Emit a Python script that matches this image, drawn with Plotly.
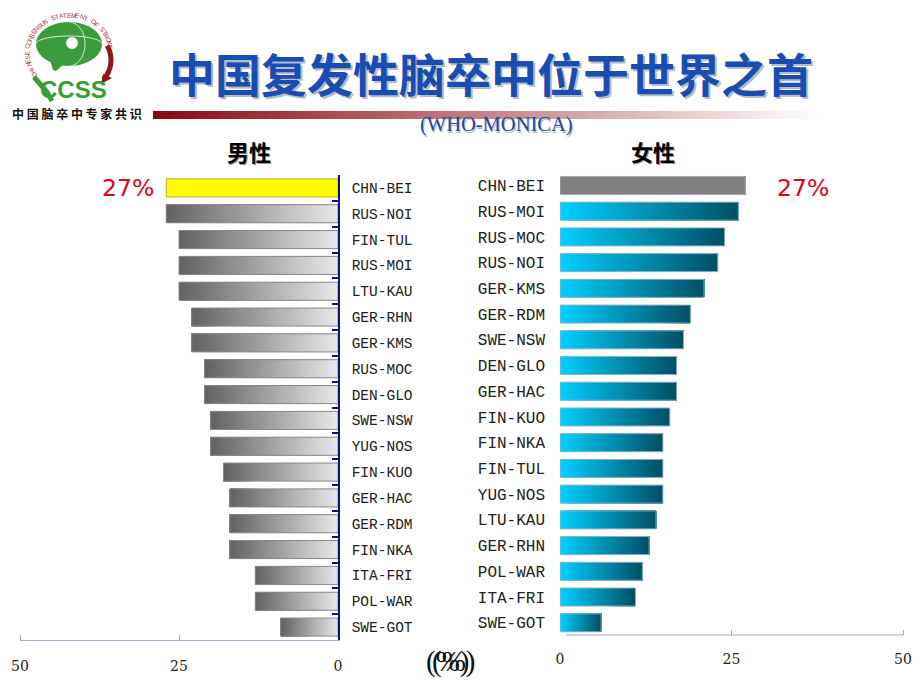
#!/usr/bin/env python3
"""Recurrent stroke rates by MONICA centre, men and women, mirrored bars."""

import math

import plotly.graph_objects as go

# the page body keeps its 8 px margin, so the figure is laid out inside that
PAGE = 8
W, H = 920 - PAGE, 690 - PAGE

# ── Data ──────────────────────────────────────────────────────────────────────

TITLE = "中国复发性脑卒中位于世界之首"
SUBTITLE = "(WHO-MONICA)"
LOGO_CAPTION = "中国脑卒中专家共识"
LOGO_RING = "CHINESE CONSENSUS STATEMENT OF STROKE"

male_centres = [
    "CHN-BEI", "RUS-NOI", "FIN-TUL", "RUS-MOI", "LTU-KAU", "GER-RHN",
    "GER-KMS", "RUS-MOC", "DEN-GLO", "SWE-NSW", "YUG-NOS", "FIN-KUO",
    "GER-HAC", "GER-RDM", "FIN-NKA", "ITA-FRI", "POL-WAR", "SWE-GOT",
]
male_values = [27, 27, 25, 25, 25, 23, 23, 21, 21, 20, 20, 18, 17, 17, 17, 13, 13, 9]

female_centres = [
    "CHN-BEI", "RUS-MOI", "RUS-MOC", "RUS-NOI", "GER-KMS", "GER-RDM",
    "SWE-NSW", "DEN-GLO", "GER-HAC", "FIN-KUO", "FIN-NKA", "FIN-TUL",
    "YUG-NOS", "LTU-KAU", "GER-RHN", "POL-WAR", "ITA-FRI", "SWE-GOT",
]
female_values = [27, 26, 24, 23, 21, 19, 18, 17, 17, 16, 15, 15, 15, 14, 13, 12, 11, 6]

x_ticks = [0, 25, 50]

# ── Helpers ───────────────────────────────────────────────────────────────────


def px(x):
    return (x - PAGE) / W


def py(y):
    return 1 - (y - PAGE) / H


def mix(a, b, t):
    return "rgb(%d,%d,%d)" % tuple(round(a[i] + (b[i] - a[i]) * t) for i in range(3))


def gradient_bars(names, values, start, end, first, xaxis, yaxis, outline, first_outline):
    """Bars have no gradient fill in plotly, so each is painted over in steps."""
    steps = 70
    ys, widths, bases, colors = [], [], [], []
    for i, (name, value) in enumerate(zip(names, values)):
        for k in range(steps):
            t = k / steps
            ys.append(name)
            widths.append(value * (1 - t))
            bases.append(value * t)
            colors.append(first if i == 0 else mix(start, end, t))
    fill = go.Bar(
        y=ys, x=widths, base=bases, orientation="h", xaxis=xaxis, yaxis=yaxis,
        marker=dict(color=colors, line_width=0), showlegend=False, hoverinfo="skip",
    )
    edge = go.Bar(
        y=names, x=values, orientation="h", xaxis=xaxis, yaxis=yaxis,
        marker=dict(
            color="rgba(0,0,0,0)",
            line=dict(color=[first_outline] + [outline] * (len(names) - 1), width=1),
        ),
        showlegend=False,
    )
    return [fill, edge]


def label(text, x, y, size, color, family, bold=False, angle=0):
    return dict(
        text=f"<b>{text}</b>" if bold else text,
        x=px(x), y=py(y), xref="paper", yref="paper",
        xanchor="center", yanchor="middle", showarrow=False, textangle=angle,
        font=dict(size=size, color=color, family=family),
    )


def path(points, close=True):
    d = "M " + " L ".join(f"{px(x):.5f},{py(y):.5f}" for x, y in points)
    return d + " Z" if close else d


def logo_shape(points, close=True, **style):
    return dict(type="path", xref="paper", yref="paper", path=path(points, close), **style)


def ellipse_pts(cx, cy, rx, ry, a0=0, a1=360, n=40):
    return [
        (cx + rx * math.cos(math.radians(a0 + (a1 - a0) * i / n)),
         cy + ry * math.sin(math.radians(a0 + (a1 - a0) * i / n)))
        for i in range(n + 1)
    ]


# ── Figure ────────────────────────────────────────────────────────────────────

fig = go.Figure()
for trace in gradient_bars(
    male_centres, male_values, (232, 232, 232), (96, 96, 96), "#ffff00",
    "x", "y", "#8a8a8a", "#b8b04a",
):
    fig.add_trace(trace)
for trace in gradient_bars(
    female_centres, female_values, (0, 208, 255), (0, 78, 100), "#808080",
    "x2", "y2", "#8fb4c2", "#a8a8a8",
):
    fig.add_trace(trace)

CN = "Noto Sans CJK SC"
AXIS_FONT = dict(family="DejaVu Serif", size=14, color="#222222")
AXIS_LINE = "#a9a4cc"

annotations = []
# header
annotations.append(label(TITLE, 493, 74, 46, "#b4bccb", CN, bold=True))
annotations.append(label(TITLE, 491, 72, 46, "#1a4db0", CN, bold=True))
annotations.append(label(SUBTITLE, 497.5, 126, 20.5, "#b0b8c8", "Liberation Serif"))
annotations.append(label(SUBTITLE, 496.5, 125, 20.5, "#1f4a9c", "Liberation Serif"))
# panel heads
for text, x in [("男性", 249), ("女性", 653)]:
    annotations.append(label(text, x + 1, 152, 22, "#999999", CN, bold=True))
    annotations.append(label(text, x, 151, 22, "#000000", CN, bold=True))
# callouts
annotations.append(label(f"{male_values[0]}%", 128, 188, 23.5, "#e60020", "DejaVu Sans"))
annotations.append(label(f"{female_values[0]}%", 803, 188, 23.5, "#e60020", "DejaVu Sans"))
# the overprinted unit label
annotations.append(label("(%)", 447, 661, 29, "#111111", "Liberation Serif"))
annotations.append(label("(%)", 453, 661, 29, "#111111", "Liberation Serif"))
# logo text
annotations.append(label("CCSS", 73, 89, 24, "#33a033", "Liberation Sans", bold=True))
annotations.append(label(" ".join(LOGO_CAPTION), 77, 114, 12, "#111111", CN, bold=True))
for i, ch in enumerate(LOGO_RING):
    theta = math.radians(-125 + 206 * i / (len(LOGO_RING) - 1))
    annotations.append(
        label(ch, 69 + 42 * math.sin(theta), 53 - 38 * math.cos(theta), 6.5, "#b02a2a",
              "Liberation Sans", angle=math.degrees(theta))
    )

shapes = []
# fading red rule under the title, each step painted to the far end so no seams show
rule_steps = 110
for i in range(rule_steps):
    x0 = 153 + (825 - 153) * i / rule_steps
    shapes.append(dict(
        type="rect", xref="paper", yref="paper", x0=px(x0), x1=px(825), y0=py(119), y1=py(111),
        fillcolor=mix((139, 10, 20), (255, 255, 255), i / (rule_steps - 1)), line_width=0,
    ))
# right panel axis line stops short of zero
shapes.append(dict(
    type="line", xref="paper", yref="paper", x0=px(566), x1=px(903), y0=py(635), y1=py(635),
    line=dict(color=AXIS_LINE, width=1),
))
# logo
GREEN = "#3a9c3a"
shapes.append(logo_shape(ellipse_pts(69, 44, 33, 22), fillcolor=GREEN, line_width=0))
shapes.append(logo_shape([(50, 60), (66, 62), (56, 71), (53, 70)], fillcolor=GREEN, line_width=0))
shapes.append(logo_shape(ellipse_pts(72, 43, 6, 6, n=12), fillcolor="white", line_width=0))
shapes.append(logo_shape(ellipse_pts(69, 44, 16, 22, -90, 90), close=False, line=dict(color="#d8f0d8", width=1)))
shapes.append(logo_shape(ellipse_pts(69, 44, 33, 8, 180, 360), close=False, line=dict(color="#d8f0d8", width=1)))
shapes.append(logo_shape([(34, 77), (47, 92), (52, 101)], close=False, line=dict(color=GREEN, width=5)))
shapes.append(logo_shape(ellipse_pts(70, 60, 41, 34, -25, 35, n=14), close=False, line=dict(color="#8b1a1a", width=5)))
shapes.append(logo_shape([(101, 84), (112, 78), (103, 74)], fillcolor="#8b1a1a", line_width=0))

# y domains: rows step 25.85 px
fig.update_layout(
    width=W, height=H, margin=dict(l=0, r=0, t=0, b=0, pad=0),
    paper_bgcolor="white", plot_bgcolor="white",
    barmode="overlay", bargap=0.3, hovermode=False,
    annotations=annotations, shapes=shapes,
    xaxis=dict(
        domain=[px(20), px(338)], range=[50, 0], anchor="y", automargin=False,
        tickvals=x_ticks, tickfont=AXIS_FONT, ticklabelstandoff=13,
        showgrid=False, zeroline=False, showline=True, linecolor=AXIS_LINE, linewidth=1,
        ticks="", minor=dict(tickvals=[25, 50], ticks="inside", ticklen=5, tickcolor=AXIS_LINE),
    ),
    yaxis=dict(
        domain=[py(640), py(175)], range=[17.5, -0.5], anchor="x", side="right", automargin=False,
        type="category", categoryorder="array", categoryarray=male_centres,
        tickfont=dict(family="Liberation Mono", size=14.5, color="#222222"),
        ticklabelstandoff=9, tickson="boundaries",
        ticks="inside", ticklen=6, tickwidth=1.5, tickcolor="#101080",
        showgrid=False, zeroline=False, showline=True, linecolor="#101080", linewidth=1.5,
    ),
    xaxis2=dict(
        domain=[px(560), px(903)], range=[0, 50], anchor="y2", automargin=False,
        tickvals=x_ticks, tickfont=AXIS_FONT, ticklabelstandoff=14,
        showgrid=False, zeroline=False, showline=False,
        ticks="", minor=dict(tickvals=[25, 50], ticks="inside", ticklen=5, tickcolor=AXIS_LINE),
    ),
    yaxis2=dict(
        domain=[py(635), py(172.6)], range=[17.476, -0.5], anchor="x2", side="left", automargin=False,
        type="category", categoryorder="array", categoryarray=female_centres,
        tickfont=dict(family="Liberation Mono", size=16, color="#222222"),
        ticklabelstandoff=14,
        ticks="", showgrid=False, zeroline=False, showline=False,
    ),
)

fig.write_html("out.html")
